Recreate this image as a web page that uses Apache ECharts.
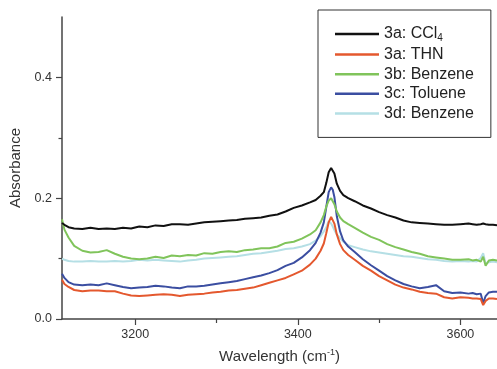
<!DOCTYPE html>
<html>
<head>
<meta charset="utf-8">
<script src="https://cdn.jsdelivr.net/npm/echarts@6/dist/echarts.min.js"></script>
<style>
html,body{margin:0;padding:0;background:#fff;}
#chart{width:497px;height:369px;}
</style>
</head>
<body>
<div id="chart"></div>
<script>
const wavenumbers = [3110,3113,3118,3125,3135,3145,3155,3165,3175,3185,3195,3205,3215,3225,3235,3245,3255,3265,3275,3285,3295,3305,3315,3325,3335,3345,3355,3365,3375,3385,3395,3405,3415,3422,3428,3432,3435,3438,3441,3443,3445,3448,3452,3456,3462,3470,3480,3490,3500,3510,3520,3530,3540,3550,3560,3570,3580,3590,3600,3610,3615,3620,3625,3628,3631,3635,3640,3645];

const ccl4_3a = [0.159,0.156,0.152,0.150,0.149,0.151,0.149,0.150,0.149,0.151,0.150,0.153,0.152,0.155,0.154,0.157,0.157,0.156,0.158,0.160,0.161,0.162,0.163,0.164,0.166,0.167,0.168,0.171,0.173,0.178,0.184,0.188,0.193,0.197,0.204,0.210,0.225,0.243,0.250,0.249,0.241,0.224,0.212,0.205,0.200,0.195,0.188,0.183,0.177,0.172,0.168,0.163,0.160,0.159,0.158,0.157,0.156,0.156,0.157,0.158,0.157,0.156,0.157,0.158,0.157,0.156,0.156,0.155];

const thn_3a = [0.065,0.058,0.053,0.048,0.046,0.047,0.047,0.046,0.046,0.042,0.039,0.038,0.039,0.040,0.041,0.040,0.038,0.040,0.041,0.042,0.044,0.045,0.047,0.048,0.050,0.052,0.056,0.060,0.064,0.068,0.074,0.080,0.090,0.100,0.113,0.125,0.142,0.160,0.169,0.166,0.158,0.140,0.124,0.114,0.106,0.098,0.088,0.080,0.071,0.064,0.057,0.052,0.049,0.045,0.043,0.042,0.036,0.034,0.036,0.035,0.034,0.034,0.033,0.023,0.030,0.034,0.034,0.033];

const benzene_3b = [0.165,0.148,0.135,0.121,0.113,0.110,0.111,0.114,0.108,0.103,0.100,0.099,0.100,0.103,0.101,0.105,0.104,0.106,0.105,0.109,0.108,0.111,0.112,0.111,0.114,0.115,0.117,0.117,0.120,0.126,0.128,0.133,0.140,0.147,0.160,0.172,0.186,0.196,0.200,0.197,0.190,0.178,0.168,0.162,0.157,0.151,0.143,0.136,0.131,0.124,0.119,0.115,0.111,0.108,0.104,0.102,0.100,0.098,0.098,0.099,0.097,0.098,0.095,0.103,0.088,0.097,0.098,0.097];

const toluene_3c = [0.075,0.068,0.061,0.057,0.056,0.057,0.056,0.059,0.056,0.053,0.051,0.052,0.053,0.055,0.054,0.052,0.051,0.054,0.054,0.055,0.057,0.059,0.061,0.063,0.066,0.069,0.072,0.076,0.081,0.088,0.093,0.102,0.114,0.126,0.143,0.160,0.185,0.210,0.218,0.214,0.202,0.170,0.145,0.130,0.120,0.111,0.099,0.089,0.080,0.071,0.064,0.058,0.054,0.051,0.053,0.056,0.046,0.043,0.044,0.042,0.043,0.041,0.042,0.026,0.038,0.044,0.045,0.045];

const benzene_3d = [0.100,0.098,0.096,0.095,0.095,0.096,0.095,0.095,0.096,0.095,0.096,0.098,0.097,0.098,0.097,0.096,0.095,0.097,0.098,0.100,0.101,0.102,0.103,0.104,0.106,0.108,0.109,0.111,0.113,0.116,0.117,0.120,0.124,0.130,0.137,0.145,0.152,0.162,0.158,0.153,0.147,0.140,0.134,0.128,0.122,0.119,0.115,0.112,0.110,0.108,0.106,0.104,0.103,0.101,0.099,0.098,0.096,0.095,0.096,0.095,0.096,0.095,0.101,0.109,0.092,0.094,0.095,0.094];

const seriesNames = ['3a: CCl4','3a: THN','3b: Benzene','3c: Toluene','3d: Benzene'];
const seriesValues = [ccl4_3a, thn_3a, benzene_3b, toluene_3c, benzene_3d];
const seriesColors = ['#111111','#e4582e','#80c45b','#3b4ea1','#b5dfe5'];

const xMajorTicks = [3200,3400,3600];
const xMinorTicks = [3300,3500];
const yMajorTicks = [0,0.2,0.4];
const yMinorTicks = [0.1,0.3];

const FONT = '"Liberation Sans", Arial, Helvetica, sans-serif';
const axisColor = '#444';

const chart = echarts.init(document.getElementById('chart'), null, {renderer:'canvas'});

const xCommon = {type:'value', min:3110, max:3645, gridIndex:0, position:'bottom', splitLine:{show:false}};
const yCommon = {type:'value', min:0, max:0.5, gridIndex:0, position:'left', splitLine:{show:false}};

chart.setOption({
  animation:false,
  backgroundColor:'#fff',
  grid:{left:62, right:0, top:17, bottom:50, containLabel:false},
  legend:{
    orient:'vertical',
    left:318, top:10,
    padding:[15,17,16,17],
    borderColor:'#333', borderWidth:1,
    icon:'rect',
    itemWidth:44, itemHeight:2.5, itemGap:3.6,
    data: seriesNames,
    formatter: function(n){ return n === '3a: CCl4' ? '3a: CCl{s|4}' : n; },
    textStyle:{fontFamily:FONT, fontSize:16, color:'#222', lineHeight:16,
      rich:{s:{fontFamily:FONT, fontSize:10, color:'#222', lineHeight:16, padding:[8,0,0,0]}}}
  },
  xAxis:[
    Object.assign({}, xCommon, {
      name:'Wavelength (cm{sup|-1})',
      nameLocation:'middle', nameGap:29,
      nameTextStyle:{fontFamily:FONT, fontSize:15, color:'#333',
        rich:{sup:{fontFamily:FONT, fontSize:9, color:'#333', padding:[0,0,8,0]}}},
      axisLine:{show:true, onZero:false, lineStyle:{color:axisColor, width:1.5}},
      axisTick:{show:true, inside:false, length:6, customValues:xMajorTicks, lineStyle:{color:axisColor, width:1.2}},
      axisLabel:{show:true, customValues:xMajorTicks, margin:9, fontFamily:FONT, fontSize:12.5, color:'#333',
        formatter:function(v){return String(v);}}
    }),
    Object.assign({}, xCommon, {
      axisLine:{show:false, onZero:false},
      axisTick:{show:true, inside:false, length:4, customValues:xMinorTicks, lineStyle:{color:axisColor, width:1.2}},
      axisLabel:{show:false}
    })
  ],
  yAxis:[
    Object.assign({}, yCommon, {
      name:'Absorbance',
      nameLocation:'middle', nameGap:36,
      nameTextStyle:{fontFamily:FONT, fontSize:15, color:'#333'},
      axisLine:{show:true, onZero:false, lineStyle:{color:axisColor, width:1.5}},
      axisTick:{show:true, inside:false, length:6, customValues:yMajorTicks, lineStyle:{color:axisColor, width:1.2}},
      axisLabel:{show:true, customValues:yMajorTicks, margin:10, fontFamily:FONT, fontSize:12.5, color:'#333',
        formatter:function(v){return v.toFixed(1);}}
    }),
    Object.assign({}, yCommon, {
      axisLine:{show:false, onZero:false},
      axisTick:{show:true, inside:false, length:3.5, customValues:yMinorTicks, lineStyle:{color:axisColor, width:1.2}},
      axisLabel:{show:false}
    })
  ],
  series: seriesNames.map(function(name, i){
    return {
      name:name, type:'line', xAxisIndex:0, yAxisIndex:0,
      symbol:'none', smooth:false,
      z: 10 - i,
      lineStyle:{color:seriesColors[i], width:2},
      itemStyle:{color:seriesColors[i]},
      data: wavenumbers.map(function(w, k){ return [w, seriesValues[i][k]]; })
    };
  })
});
</script>
</body>
</html>
